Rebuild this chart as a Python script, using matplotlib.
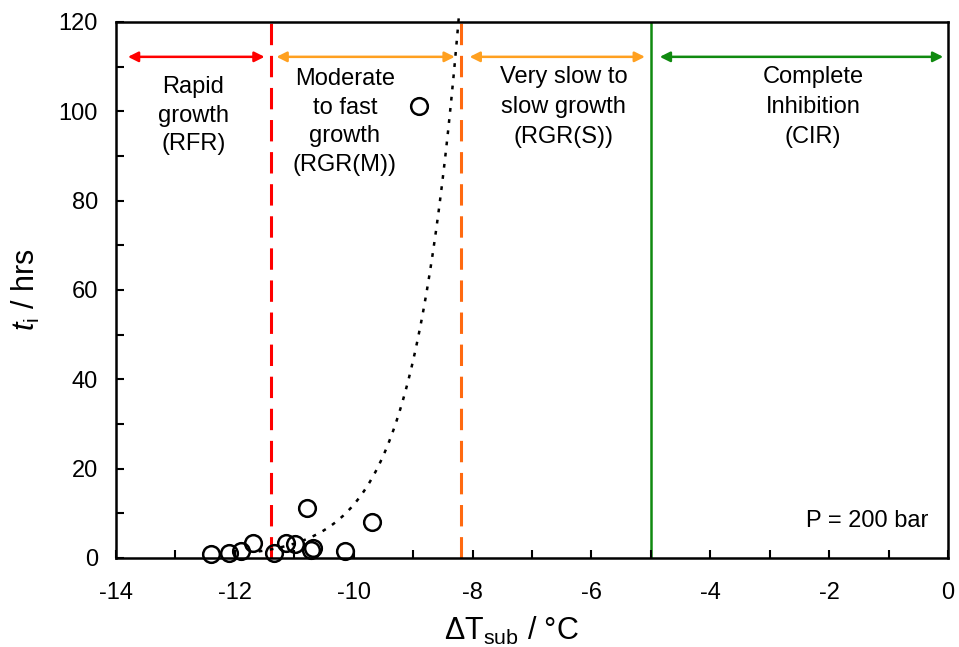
import matplotlib
matplotlib.use("Agg")
import matplotlib.pyplot as plt
import numpy as np
from matplotlib.ticker import MultipleLocator

plt.rcParams['font.family'] = ['Liberation Sans', 'DejaVu Sans']
plt.rcParams['mathtext.fontset'] = 'custom'
plt.rcParams['mathtext.rm'] = 'Liberation Sans'
plt.rcParams['mathtext.it'] = 'Liberation Sans:italic'
plt.rcParams['axes.unicode_minus'] = False

# 측정값 (subcooling, induction time)
dT_sub = [-12.40, -12.10, -11.90, -11.70, -11.34, -11.14, -10.99,
          -10.79, -10.72, -10.68, -10.14, -9.70, -8.90]
t_ind = [1.0, 1.2, 1.6, 3.4, 1.2, 3.3, 3.1, 11.3, 1.8, 2.2, 1.6, 8.0, 101.3]

# 지수 추세선 계수: t = exp(ln_a + b * dT)
trend_ln_a = 15.58
trend_b = 1.31
trend_x0 = -11.6

# 영역 경계
bound_red = -11.4
bound_orange = -8.2
bound_green = -5.0

region_labels = ["Rapid\ngrowth\n(RFR)",
                 "Moderate\nto fast\ngrowth\n(RGR(M))",
                 "Very slow to\nslow growth\n(RGR(S))",
                 "Complete\nInhibition\n(CIR)"]
region_x = [-12.7, -10.15, -6.47, -2.27]
region_y = [99.0, 97.6, 101.0, 101.0]
region_spacing = [1.38, 1.38, 1.48, 1.48]
arrow_spans = [(-13.8, -11.5), (-11.3, -8.3), (-8.05, -5.1), (-4.85, -0.08)]
arrow_colors = ['#ff0000', '#ffa020', '#ffa020', '#108a10']
arrow_y = 112.2

fig = plt.figure(figsize=(9.59, 6.47), dpi=100)
ax = fig.add_axes([0.121, 0.1376, 0.8675, 0.8284])

x_end = (np.log(122) - trend_ln_a) / trend_b
xf = np.linspace(trend_x0, x_end, 200)
ax.plot(xf, np.exp(trend_ln_a + trend_b * xf), ls=(0, (1.5, 3)),
        color='black', lw=1.8, clip_on=False, zorder=2)

ax.axvline(bound_red, color='#ff0000', lw=2.2, ls=(0, (7, 3.5)), zorder=1)
ax.axvline(bound_orange, color='#ff6a10', lw=2.2, ls=(0, (7, 3.5)), zorder=1)
ax.axvline(bound_green, color='#108a10', lw=1.8, zorder=1)

ax.plot(dT_sub, t_ind, 'o', ms=12, mfc='none', mec='black', mew=1.8,
        clip_on=False, zorder=3)

for (x0, x1), c in zip(arrow_spans, arrow_colors):
    ax.annotate('', xy=(x1, arrow_y), xytext=(x0, arrow_y),
                arrowprops=dict(arrowstyle='<|-|>', color=c, lw=1.8,
                                mutation_scale=15, shrinkA=0, shrinkB=0))

for txt, x, y, ls in zip(region_labels, region_x, region_y, region_spacing):
    ax.text(x, y, txt, ha='center', va='center', fontsize=17, linespacing=ls)

ax.text(-0.33, 8.3, "P = 200 bar", ha='right', va='center', fontsize=17)

ax.set_xlim(-14, 0)
ax.set_ylim(0, 120)
ax.xaxis.set_major_locator(MultipleLocator(2))
ax.xaxis.set_minor_locator(MultipleLocator(1))
ax.yaxis.set_major_locator(MultipleLocator(20))
ax.yaxis.set_minor_locator(MultipleLocator(10))
ax.tick_params(which='both', direction='in', length=6, width=1.5,
               labelsize=17)
ax.tick_params(axis='x', pad=17)
ax.tick_params(axis='y', pad=13)
for s in ax.spines.values():
    s.set_linewidth(1.8)

ax.set_xlabel("ΔT$_{\\rm sub}$ / °C", fontsize=22, labelpad=8, x=0.475)
ax.set_ylabel(r"$t_{\rm i}$ / hrs", fontsize=22, labelpad=12)

fig.savefig("out.png", dpi=100)
